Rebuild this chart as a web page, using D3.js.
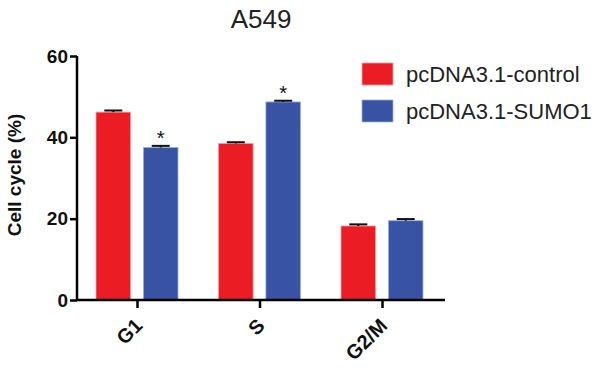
<!DOCTYPE html>
<html>
<head>
<meta charset="utf-8">
<script src="https://cdn.jsdelivr.net/npm/d3@7"></script>
<style>
  body { margin: 0; background: #fff; }
  text { font-family: "Liberation Sans", Arial, sans-serif; }
</style>
</head>
<body>
<div id="chart"></div>
<script>
// Chart data
const phases = ["G1", "S", "G2/M"];
const groups = ["pcDNA3.1-control", "pcDNA3.1-SUMO1"];
const controlValues = [46.2, 38.5, 18.2];
const sumo1Values = [37.5, 48.7, 19.5];
const controlErrors = [0.4, 0.3, 0.4];
const sumo1Errors = [0.4, 0.3, 0.4];
const sumo1Stars = [true, true, false];
const yTicks = [0, 20, 40, 60];

const colors = ["#ec1c24", "#3853a4"];
const edge = ["#f7a0a0", "#9aaee0"];

const W = 614, H = 378;

const svg = d3.select("#chart").append("svg")
    .attr("width", W)
    .attr("height", H);

const x0 = d3.scalePoint()
    .domain(phases)
    .range([137, 382]);

const x1 = d3.scaleBand()
    .domain(groups)
    .range([-41, 41])
    .paddingInner(0.27);

const y = d3.scaleLinear()
    .domain([0, 60])
    .range([300, 56]);

const rows = phases.map((p, i) => ({
    phase: p,
    vals: [
        { g: groups[0], v: controlValues[i], e: controlErrors[i], star: false, k: 0 },
        { g: groups[1], v: sumo1Values[i], e: sumo1Errors[i], star: sumo1Stars[i], k: 1 }
    ]
}));

// Title
svg.append("text")
    .attr("x", 261).attr("y", 28)
    .attr("text-anchor", "middle")
    .attr("font-size", 26)
    .attr("fill", "#222")
    .text("A549");

// Bars
const grp = svg.selectAll("g.phase")
    .data(rows)
    .join("g")
    .attr("class", "phase")
    .attr("transform", d => `translate(${x0(d.phase)},0)`);

grp.selectAll("rect")
    .data(d => d.vals)
    .join("rect")
    .attr("x", d => x1(d.g))
    .attr("width", x1.bandwidth())
    .attr("y", d => y(d.v))
    .attr("height", d => y(0) - y(d.v))
    .attr("fill", d => colors[d.k])
    .attr("stroke", d => edge[d.k])
    .attr("stroke-width", 0.8);

// Error bars (upper only)
grp.selectAll("g.err")
    .data(d => d.vals)
    .join("g")
    .attr("class", "err")
    .each(function (d) {
        const cx = x1(d.g) + x1.bandwidth() / 2;
        const g = d3.select(this);
        g.append("line")
            .attr("x1", cx).attr("x2", cx)
            .attr("y1", y(d.v)).attr("y2", y(d.v + d.e))
            .attr("stroke", "#111").attr("stroke-width", 2);
        g.append("line")
            .attr("x1", cx - 9).attr("x2", cx + 9)
            .attr("y1", y(d.v + d.e)).attr("y2", y(d.v + d.e))
            .attr("stroke", "#111").attr("stroke-width", 2);
    });

// Significance stars
grp.selectAll("text.star")
    .data(d => d.vals.filter(v => v.star))
    .join("text")
    .attr("class", "star")
    .attr("x", d => x1(d.g) + x1.bandwidth() / 2)
    .attr("y", d => y(d.v + d.e) - 1)
    .attr("text-anchor", "middle")
    .attr("font-size", 20)
    .attr("fill", "#111")
    .text("*");

// Y axis
const yAxis = svg.append("g")
    .attr("transform", "translate(77,0)")
    .call(d3.axisLeft(y).tickValues(yTicks).tickSize(7).tickPadding(2));
yAxis.select(".domain").attr("stroke", "#000").attr("stroke-width", 2.5)
    .attr("d", `M0,${y(60)}V${y(0)}`);
yAxis.selectAll(".tick line").attr("stroke", "#000").attr("stroke-width", 2.5);
yAxis.selectAll(".tick text")
    .attr("font-size", 19)
    .attr("font-weight", "bold")
    .attr("fill", "#111")
    .attr("font-family", "Liberation Sans, Arial, sans-serif");

// X axis
const xAxis = svg.append("g")
    .attr("transform", `translate(0,${y(0)})`)
    .call(d3.axisBottom(x0).tickSize(8).tickPadding(4));
xAxis.select(".domain").attr("stroke", "#000").attr("stroke-width", 2.5)
    .attr("d", "M76,0H445");
xAxis.selectAll(".tick line").attr("stroke", "#000").attr("stroke-width", 2.5);
xAxis.selectAll(".tick text")
    .attr("font-size", 20)
    .attr("font-weight", "bold")
    .attr("fill", "#111")
    .attr("font-family", "Liberation Sans, Arial, sans-serif")
    .attr("text-anchor", "end")
    .attr("y", 0)
    .attr("dy", null)
    .attr("transform", "translate(6,27) rotate(-45)");

// Y label
svg.append("text")
    .attr("transform", "translate(21,175) rotate(-90)")
    .attr("text-anchor", "middle")
    .attr("font-size", 19)
    .attr("font-weight", "bold")
    .attr("fill", "#111")
    .text("Cell cycle (%)");

// Legend
const legend = svg.append("g").attr("transform", "translate(362,63)");
const li = legend.selectAll("g")
    .data(groups)
    .join("g")
    .attr("transform", (d, i) => `translate(0,${i * 37})`);
li.append("rect")
    .attr("width", 31).attr("height", 22)
    .attr("fill", (d, i) => colors[i])
    .attr("stroke", (d, i) => edge[i])
    .attr("stroke-width", 0.8);
li.append("text")
    .attr("x", 44).attr("y", 19)
    .attr("font-size", 22)
    .attr("fill", "#222")
    .text(d => d);
</script>
</body>
</html>
